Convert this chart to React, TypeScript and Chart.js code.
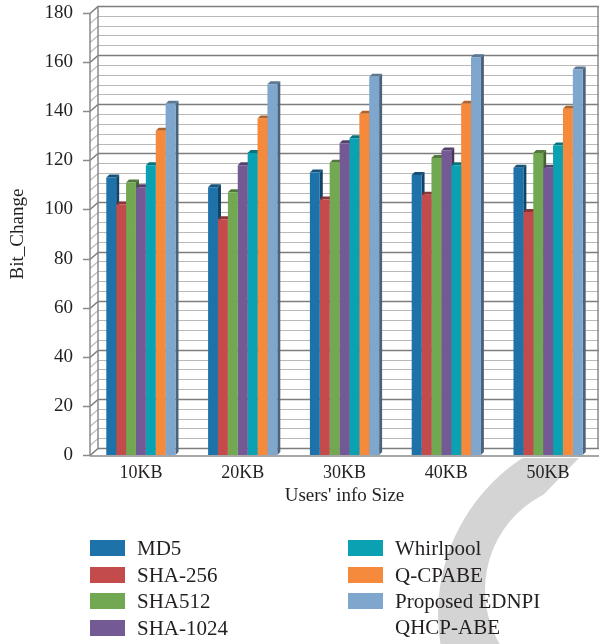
import React, { useEffect, useRef } from 'react';
import { Chart, registerables } from 'chart.js';

Chart.register(...registerables);

// ---- Data ----
const categories = ['10KB', '20KB', '30KB', '40KB', '50KB'];
const seriesNames = ['MD5', 'SHA-256', 'SHA512', 'SHA-1024', 'Whirlpool', 'Q-CPABE', 'Proposed EDNPI QHCP-ABE'];
const md5 = [113, 109, 115, 114, 117];
const sha256 = [102, 96, 104, 106, 99];
const sha512 = [111, 107, 119, 121, 123];
const sha1024 = [109, 118, 127, 124, 117];
const whirlpool = [118, 123, 129, 118, 126];
const qcpabe = [132, 137, 139, 143, 141];
const proposed = [143, 151, 154, 162, 157];
const seriesValues = [md5, sha256, sha512, sha1024, whirlpool, qcpabe, proposed];
const colors = ['#1e72aa', '#c44b4b', '#72a852', '#745a95', '#0aa1b2', '#f5893c', '#7fa6cd'];
const yMin = 0;
const yMax = 180;
const yStep = 20;
const yMinorStep = 4;

const FONT = '"Liberation Serif", "Times New Roman", serif';
const TEXT = '#231f20';

function shade(hex: string, f: number) {
  const n = parseInt(hex.slice(1), 16);
  const r = Math.round(((n >> 16) & 255) * f);
  const g = Math.round(((n >> 8) & 255) * f);
  const b = Math.round((n & 255) * f);
  return `rgb(${r},${g},${b})`;
}

const watermark = {
  id: 'watermark',
  beforeDraw(chart: any) {
    const ctx = chart.ctx;
    ctx.save();
    ctx.beginPath();
    ctx.moveTo(0, 458);
    ctx.lineTo(579, 458);
    ctx.lineTo(520, 519);
    ctx.lineTo(700, 519);
    ctx.lineTo(700, 700);
    ctx.lineTo(0, 700);
    ctx.closePath();
    ctx.clip();
    ctx.fillStyle = '#d4d4d4';
    ctx.beginPath();
    ctx.arc(624, 614, 186, 0, Math.PI * 2);
    ctx.moveTo(592 + 107, 590);
    ctx.arc(592, 590, 107, 0, Math.PI * 2);
    ctx.fill('evenodd');
    ctx.restore();
  },
};

const walls = {
  id: 'walls',
  beforeDatasetsDraw(chart: any) {
    const { ctx, chartArea, scales } = chart;
    const { left, right, top, bottom } = chartArea;
    const y = scales.y;
    const DX = 8;
    const DY = 7;
    ctx.save();
    for (let v = yMin; v <= yMax; v += yMinorStep) {
      const py = Math.round(y.getPixelForValue(v)) + 0.5;
      const major = v % yStep === 0;
      ctx.strokeStyle = major ? '#7d7d7d' : '#b9b9b9';
      ctx.lineWidth = major ? 1.5 : 1.2;
      ctx.beginPath();
      ctx.moveTo(left, py);
      ctx.lineTo(left + DX, py - DY);
      ctx.lineTo(right, py - DY);
      ctx.stroke();
      if (major) {
        ctx.strokeStyle = '#8a8a8a';
        ctx.beginPath();
        ctx.moveTo(left - 7, py);
        ctx.lineTo(left, py);
        ctx.stroke();
      }
    }
    ctx.strokeStyle = '#8a8a8a';
    ctx.lineWidth = 1.5;
    ctx.beginPath();
    ctx.moveTo(left, top);
    ctx.lineTo(left, bottom);
    ctx.stroke();
    ctx.beginPath();
    ctx.moveTo(left + DX, top - DY);
    ctx.lineTo(left + DX, bottom - DY);
    ctx.stroke();
    ctx.beginPath();
    ctx.moveTo(right - 1, top - DY);
    ctx.lineTo(right - 1, bottom - DY);
    ctx.stroke();
    ctx.beginPath();
    ctx.moveTo(left, bottom + 1);
    ctx.lineTo(right, bottom + 1);
    ctx.stroke();
    ctx.restore();
  },
};

const bars3d = {
  id: 'bars3d',
  beforeDatasetsDraw(chart: any) {
    const ctx = chart.ctx;
    const d = 3;
    ctx.save();
    chart.data.datasets.forEach((_ds: any, i: number) => {
      const meta = chart.getDatasetMeta(i);
      meta.data.forEach((el: any) => {
        const { x, y, base, width } = el.getProps(['x', 'y', 'base', 'width'], true);
        const l = x - width / 2;
        const r = x + width / 2;
        ctx.fillStyle = shade(colors[i], 0.6);
        ctx.beginPath();
        ctx.moveTo(r, y);
        ctx.lineTo(r + d, y - d);
        ctx.lineTo(r + d, base - d);
        ctx.lineTo(r, base);
        ctx.closePath();
        ctx.fill();
        ctx.fillStyle = shade(colors[i], 0.72);
        ctx.beginPath();
        ctx.moveTo(l, y);
        ctx.lineTo(l + d, y - d);
        ctx.lineTo(r + d, y - d);
        ctx.lineTo(r, y);
        ctx.closePath();
        ctx.fill();
      });
    });
    ctx.restore();
  },
};

const legendPlugin = {
  id: 'customLegend',
  afterDraw(chart: any) {
    const ctx = chart.ctx;
    const colX = [90, 348];
    const rowY = [548, 575, 601, 628];
    const swW = 35;
    const swH = 16;
    const textGap = 12;
    const lineH = 26.5;
    ctx.save();
    ctx.font = `21px ${FONT}`;
    ctx.textBaseline = 'middle';
    ctx.textAlign = 'left';
    chart.data.datasets.forEach((ds: any, i: number) => {
      const col = i < 4 ? 0 : 1;
      const row = i < 4 ? i : i - 4;
      const x = colX[col];
      const cy = rowY[row];
      ctx.fillStyle = ds.backgroundColor;
      ctx.fillRect(x, cy - swH / 2, swW, swH);
      ctx.fillStyle = TEXT;
      const tx = x + swW + textGap;
      const maxW = chart.width - tx - 10;
      const words = String(ds.label).split(' ');
      const lines: string[] = [];
      let cur = '';
      words.forEach((w) => {
        const test = cur ? cur + ' ' + w : w;
        if (ctx.measureText(test).width > maxW && cur) {
          lines.push(cur);
          cur = w;
        } else cur = test;
      });
      if (cur) lines.push(cur);
      lines.forEach((ln, k) => ctx.fillText(ln, tx, cy + k * lineH + 1));
    });
    ctx.restore();
  },
};

export default function App() {
  const ref = useRef<HTMLCanvasElement | null>(null);
  useEffect(() => {
    document.body.style.margin = '0';
    if (!ref.current) return;
    const chart = new Chart(ref.current, {
      type: 'bar',
      data: {
        labels: categories,
        datasets: seriesNames.map((name, i) => ({
          label: name,
          data: seriesValues[i],
          backgroundColor: colors[i],
          borderWidth: 0,
          barPercentage: 1,
          categoryPercentage: 0.68,
        })),
      },
      options: {
        responsive: false,
        animation: false,
        devicePixelRatio: 1,
        layout: { padding: { top: 0, right: 0, bottom: 124, left: 0 } },
        plugins: { legend: { display: false }, tooltip: { enabled: false } },
        scales: {
          x: {
            grid: { display: false, drawTicks: false },
            border: { display: false },
            ticks: { font: { family: FONT, size: 18 }, color: TEXT, padding: 7 },
            title: {
              display: true,
              text: "Users' info Size",
              font: { family: FONT, size: 19 },
              color: TEXT,
              padding: { top: 0, bottom: 13 },
            },
            afterFit(s: any) {
              s.height = 65;
            },
          },
          y: {
            min: yMin,
            max: yMax,
            ticks: { stepSize: yStep, padding: 17, font: { family: FONT, size: 19 }, color: TEXT },
            grid: { display: false, drawTicks: false },
            border: { display: false },
            title: {
              display: true,
              text: 'Bit_Change',
              font: { family: FONT, size: 19 },
              color: TEXT,
              padding: { top: 7, bottom: 0 },
            },
            afterFit(s: any) {
              s.width = 90;
              s.paddingTop = 13;
              s.paddingBottom = 0;
            },
          },
        },
      } as any,
      plugins: [watermark, walls, bars3d, legendPlugin],
    });
    return () => chart.destroy();
  }, []);
  return (
    <div style={{ width: 599, height: 644 }}>
      <canvas ref={ref} width={599} height={644} style={{ display: 'block' }} />
    </div>
  );
}
